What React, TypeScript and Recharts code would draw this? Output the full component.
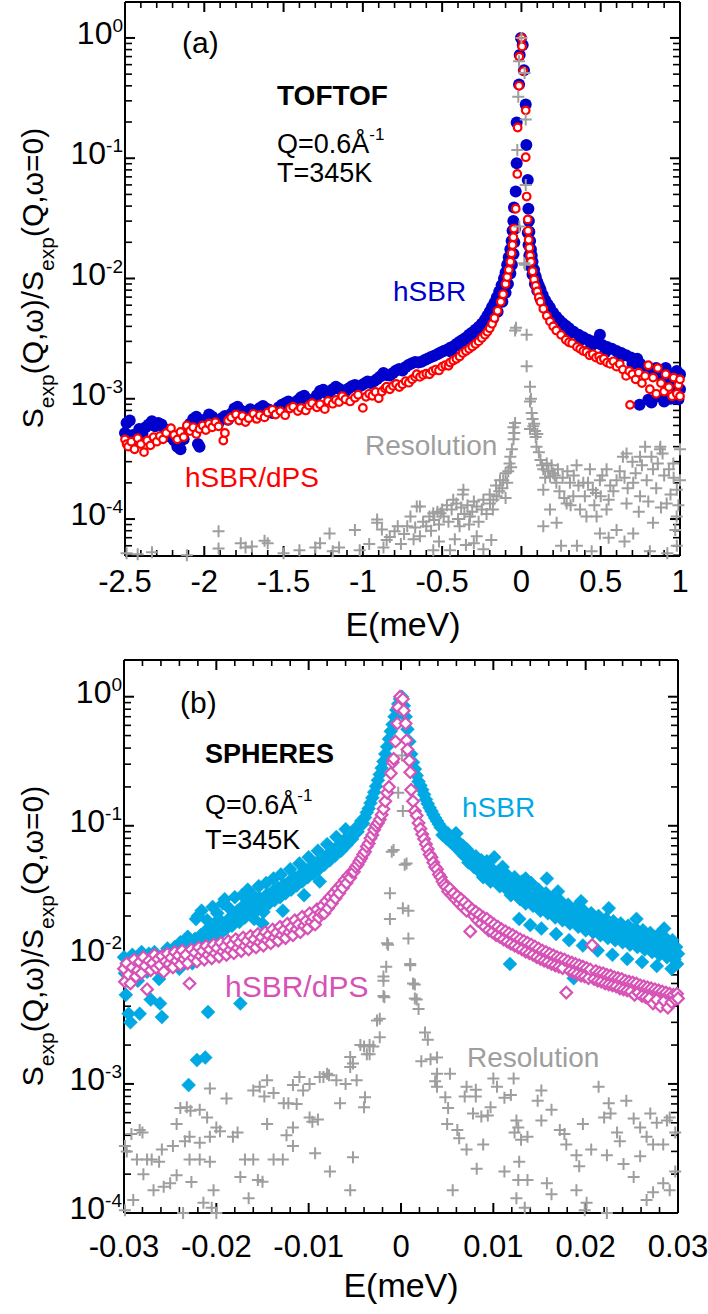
import React from 'react';
import { ScatterChart, Scatter, XAxis, YAxis } from 'recharts';

type P = [number, number];
const FONT = "'Liberation Sans', Arial, Helvetica, sans-serif";

// ---------------- Panel (a) TOFTOF ----------------
const aHsbr: P[] = [
[-2.50,5.2e-4],[-2.49,6.3e-4],[-2.48,4.4e-4],[-2.47,6.6e-4],[-2.45,5.0e-4],[-2.43,4.6e-4],[-2.41,5.6e-4],[-2.39,5.1e-4],[-2.37,5.8e-4],[-2.35,6.1e-4],[-2.33,6.5e-4],[-2.31,5.9e-4],[-2.29,6.3e-4],[-2.27,6.1e-4],[-2.25,5.6e-4],[-2.23,5.2e-4],[-2.21,4.8e-4],[-2.19,4.5e-4],[-2.17,4.0e-4],[-2.15,3.8e-4],[-2.13,4.6e-4],[-2.11,5.5e-4],[-2.09,6.2e-4],[-2.07,6.8e-4],[-2.05,7.1e-4],[-2.04,4.2e-4],[-2.03,4.0e-4],[-2.01,6.1e-4],[-1.99,6.8e-4],[-1.97,7.4e-4],[-1.95,7.1e-4],[-1.93,6.6e-4],[-1.91,6.3e-4],[-1.89,6.9e-4],[-1.87,7.2e-4],[-1.85,6.7e-4],[-1.83,7.5e-4],[-1.81,8.3e-4],[-1.79,8.6e-4],[-1.77,8.0e-4],[-1.75,7.5e-4],[-1.73,7.8e-4],[-1.71,8.2e-4],[-1.69,7.7e-4],[-1.67,8.0e-4],[-1.65,8.4e-4],[-1.63,8.7e-4],[-1.61,8.3e-4],[-1.59,8.1e-4],[-1.57,7.6e-4],[-1.55,8.0e-4],[-1.53,8.5e-4],[-1.51,8.9e-4],[-1.49,9.2e-4],[-1.47,9.5e-4],[-1.45,8.9e-4],[-1.43,9.3e-4],[-1.41,9.7e-4],[-1.39,1.03e-3],[-1.37,1.06e-3],[-1.35,9.9e-4],[-1.33,9.4e-4],[-1.31,9.9e-4],[-1.29,1.07e-3],[-1.27,1.16e-3],[-1.25,1.19e-3],[-1.23,1.11e-3],[-1.21,1.14e-3],[-1.19,1.20e-3],[-1.17,1.26e-3],[-1.15,1.21e-3],[-1.13,1.16e-3],[-1.11,1.15e-3],[-1.09,1.22e-3],[-1.07,1.27e-3],[-1.05,1.30e-3],[-1.03,1.25e-3],[-1.01,1.29e-3],[-0.99,1.34e-3],[-0.97,1.39e-3],[-0.95,1.35e-3],[-0.93,1.40e-3],[-0.91,1.46e-3],[-0.89,1.53e-3],[-0.87,1.64e-3],[-0.85,1.58e-3],[-0.83,1.56e-3],[-0.81,1.64e-3],[-0.79,1.72e-3],[-0.77,1.77e-3],[-0.75,1.72e-3],[-0.73,1.84e-3],[-0.71,1.92e-3],[-0.69,1.97e-3],[-0.67,2.02e-3],[-0.65,2.0e-3],[-0.63,2.03e-3],[-0.61,2.1e-3],[-0.59,2.16e-3],[-0.57,2.22e-3],[-0.55,2.28e-3],[-0.53,2.35e-3],[-0.51,2.42e-3],[-0.49,2.5e-3],[-0.47,2.56e-3],[-0.45,2.65e-3],[-0.43,2.72e-3],[-0.41,2.85e-3],[-0.39,2.98e-3],[-0.37,3.1e-3],[-0.35,3.22e-3],[-0.33,3.4e-3],[-0.31,3.55e-3],[-0.29,3.75e-3],[-0.27,3.95e-3],[-0.25,4.2e-3],[-0.23,4.55e-3],[-0.215,4.9e-3],[-0.20,5.3e-3],[-0.185,5.8e-3],[-0.17,6.3e-3],[-0.155,7.0e-3],[-0.14,7.8e-3],[-0.125,8.8e-3],[-0.11,1.0e-2],[-0.10,1.12e-2],[-0.09,1.3e-2],[-0.08,1.5e-2],[-0.07,1.75e-2],[-0.062,2.05e-2],[-0.056,2.5e-2],[-0.051,3.0e-2],[-0.047,3.9e-2],[-0.036,5.3e-2],[-0.030,9.1e-2],[-0.030,1.98e-1],[-0.015,4.1e-1],[-0.011,7.2e-1],[-0.003,1.0],[0.008,8.75e-1],[0.016,5.4e-1],[0.027,2.8e-1],[0.031,1.29e-1],[0.040,6.6e-2],[0.044,3.8e-2],[0.047,3.0e-2],[0.05,2.45e-2],[0.055,2.05e-2],[0.06,1.75e-2],[0.065,1.55e-2],[0.07,1.38e-2],[0.08,1.18e-2],[0.09,1.04e-2],[0.10,9.4e-3],[0.11,8.7e-3],[0.12,8.1e-3],[0.134,7.3e-3],[0.15,6.6e-3],[0.165,6.1e-3],[0.18,5.7e-3],[0.20,5.2e-3],[0.22,4.8e-3],[0.24,4.5e-3],[0.26,4.25e-3],[0.28,4.05e-3],[0.30,3.85e-3],[0.33,3.6e-3],[0.36,3.4e-3],[0.39,3.25e-3],[0.42,3.1e-3],[0.45,3.0e-3],[0.48,2.9e-3],[0.495,3.4e-3],[0.51,2.8e-3],[0.54,2.7e-3],[0.57,2.6e-3],[0.60,2.5e-3],[0.63,2.4e-3],[0.66,2.3e-3],[0.69,2.2e-3],[0.71,2.05e-3],[0.73,2.15e-3],[0.745,8.9e-4],[0.75,1.95e-3],[0.77,1.85e-3],[0.79,1.75e-3],[0.80,9.8e-4],[0.81,1.8e-3],[0.82,9.3e-4],[0.83,1.65e-3],[0.85,1.8e-3],[0.86,1.05e-3],[0.87,1.6e-3],[0.89,1.55e-3],[0.90,9.5e-4],[0.91,1.8e-3],[0.93,1.35e-3],[0.94,1.0e-3],[0.95,1.6e-3],[0.97,1.25e-3],[0.98,1.7e-3],[0.99,9.9e-4],[1.0,1.6e-3],[1.0,1.2e-3],
[-0.04,2.6e-2],[-0.045,2.0e-2],[-0.05,1.6e-2],[-0.06,1.3e-2],[-0.07,1.1e-2],[-0.085,9.0e-3],[-0.1,7.6e-3],[-0.12,6.4e-3],[-0.15,5.3e-3],[-0.18,4.6e-3],[-0.22,4.0e-3],[-0.27,3.5e-3],[-0.32,3.1e-3],[-0.38,2.75e-3],[-0.44,2.45e-3],
[0.04,2.4e-2],[0.045,1.9e-2],[0.05,1.55e-2],[0.06,1.25e-2],[0.07,1.08e-2],[0.085,9.0e-3],[0.1,7.9e-3],[0.12,6.8e-3],[0.15,5.8e-3],[0.19,4.9e-3],[0.24,4.1e-3],[0.3,3.5e-3],[0.37,3.05e-3],[0.44,2.75e-3],[0.53,2.45e-3],[0.62,2.2e-3],[0.7,1.95e-3],
];

const aHsbrDps: P[] = [
[-2.50,4.6e-4],[-2.49,4.2e-4],[-2.48,4.0e-4],[-2.46,4.4e-4],[-2.44,3.8e-4],[-2.42,4.7e-4],[-2.40,4.2e-4],[-2.38,3.6e-4],[-2.36,4.5e-4],[-2.34,4.1e-4],[-2.32,4.8e-4],[-2.30,4.4e-4],[-2.28,4.9e-4],[-2.26,4.6e-4],[-2.24,5.2e-4],[-2.21,5.7e-4],[-2.19,5.0e-4],[-2.17,4.6e-4],[-2.15,5.3e-4],[-2.13,4.8e-4],[-2.11,6.0e-4],[-2.09,5.4e-4],[-2.07,5.8e-4],[-2.05,5.1e-4],[-2.03,5.6e-4],[-2.01,6.0e-4],[-1.99,5.5e-4],[-1.97,6.2e-4],[-1.95,5.8e-4],[-1.93,6.4e-4],[-1.91,5.9e-4],[-1.88,4.5e-4],[-1.87,5.2e-4],[-1.85,6.6e-4],[-1.83,7.0e-4],[-1.80,7.4e-4],[-1.78,6.6e-4],[-1.76,7.2e-4],[-1.74,6.4e-4],[-1.72,6.9e-4],[-1.69,7.5e-4],[-1.67,6.8e-4],[-1.65,7.3e-4],[-1.62,7.0e-4],[-1.60,7.7e-4],[-1.57,8.1e-4],[-1.55,7.4e-4],[-1.52,7.9e-4],[-1.49,7.3e-4],[-1.46,8.3e-4],[-1.44,8.6e-4],[-1.41,7.9e-4],[-1.39,8.4e-4],[-1.36,8.0e-4],[-1.34,8.8e-4],[-1.32,9.2e-4],[-1.29,8.5e-4],[-1.27,9.0e-4],[-1.24,8.2e-4],[-1.22,9.6e-4],[-1.19,9.1e-4],[-1.17,9.8e-4],[-1.15,9.4e-4],[-1.13,1.05e-3],[-1.11,9.9e-4],[-1.08,9.5e-4],[-1.05,1.02e-3],[-1.03,1.08e-3],[-1.00,8.4e-4],[-0.98,1.04e-3],[-0.96,1.10e-3],[-0.94,1.06e-3],[-0.92,1.14e-3],[-0.90,1.01e-3],[-0.88,1.15e-3],[-0.86,1.22e-3],[-0.85,1.26e-3],[-0.83,1.20e-3],[-0.81,1.28e-3],[-0.79,1.33e-3],[-0.77,1.25e-3],[-0.75,1.32e-3],[-0.73,1.40e-3],[-0.71,1.36e-3],[-0.69,1.45e-3],[-0.67,1.52e-3],[-0.66,1.60e-3],[-0.64,1.52e-3],[-0.62,1.58e-3],[-0.60,1.62e-3],[-0.58,1.60e-3],[-0.56,1.70e-3],[-0.54,1.75e-3],[-0.52,1.72e-3],[-0.50,1.85e-3],[-0.48,1.90e-3],[-0.46,1.88e-3],[-0.45,2.0e-3],[-0.43,2.08e-3],[-0.41,2.15e-3],[-0.39,2.25e-3],[-0.37,2.4e-3],[-0.35,2.5e-3],[-0.33,2.6e-3],[-0.31,2.72e-3],[-0.29,2.85e-3],[-0.27,3.0e-3],[-0.25,3.2e-3],[-0.23,3.4e-3],[-0.215,3.6e-3],[-0.20,3.85e-3],[-0.185,4.2e-3],[-0.17,4.7e-3],[-0.15,5.4e-3],[-0.13,6.4e-3],[-0.116,7.4e-3],[-0.10,9.0e-3],[-0.09,1.03e-2],[-0.08,1.18e-2],[-0.07,1.38e-2],[-0.062,1.62e-2],[-0.056,1.9e-2],[-0.051,2.2e-2],[-0.047,2.6e-2],[-0.036,3.8e-2],[-0.026,7.4e-2],[-0.024,1.8e-1],[-0.015,4.0e-1],[-0.013,7.0e-1],[0.002,1.0],[0.004,8.5e-1],[0.012,5.3e-1],[0.027,2.5e-1],[0.027,1.02e-1],[0.033,4.8e-2],[0.040,3.1e-2],[0.042,2.5e-2],[0.046,2.1e-2],[0.05,1.8e-2],[0.055,1.55e-2],[0.06,1.38e-2],[0.07,1.15e-2],[0.08,9.8e-3],[0.09,8.7e-3],[0.10,7.8e-3],[0.11,7.0e-3],[0.12,6.4e-3],[0.138,5.6e-3],[0.16,4.9e-3],[0.18,4.4e-3],[0.20,4.0e-3],[0.22,3.7e-3],[0.25,3.4e-3],[0.28,3.1e-3],[0.30,2.95e-3],[0.32,2.9e-3],[0.35,2.7e-3],[0.37,2.6e-3],[0.39,2.5e-3],[0.41,2.45e-3],[0.43,2.3e-3],[0.45,2.35e-3],[0.47,2.2e-3],[0.49,2.25e-3],[0.50,2.1e-3],[0.52,2.15e-3],[0.54,2.0e-3],[0.56,1.95e-3],[0.58,2.05e-3],[0.60,1.85e-3],[0.62,1.95e-3],[0.64,1.75e-3],[0.66,1.55e-3],[0.68,1.7e-3],[0.685,8.9e-4],[0.70,1.6e-3],[0.72,1.45e-3],[0.74,1.65e-3],[0.76,1.35e-3],[0.78,1.55e-3],[0.80,1.9e-3],[0.81,1.2e-3],[0.83,1.5e-3],[0.85,1.1e-3],[0.86,1.8e-3],[0.88,1.35e-3],[0.90,1.15e-3],[0.91,1.6e-3],[0.93,1.25e-3],[0.95,1.05e-3],[0.96,1.5e-3],[0.98,1.1e-3],[0.99,1.3e-3],[1.0,1.05e-3],[1.0,1.45e-3],
];

const aResolution: P[] = [
[0.0,1.0],[-0.015,0.64],[0.02,0.51],[-0.02,0.325],[0.027,0.21],[-0.026,0.117],[0.027,0.06],[-0.013,0.027],[0.018,0.0134],[0.023,0.013],[-0.034,3.9e-3],[-0.04,3.7e-3],[0.033,3.4e-3],[0.033,1.86e-3],[0.054,1.26e-3],[0.054,9.5e-4],[0.065,7.6e-4],[-0.04,6.3e-4],[0.075,5.9e-4],[0.086,5.4e-4],[0.09,4.8e-4],[-0.05,4.6e-4],[-0.051,5.8e-4],[0.095,4.0e-4],[0.11,3.6e-4],[0.054,5.6e-4],[-0.07,3.3e-4],[-0.075,2.9e-4],[-0.083,2.5e-4],[0.138,2.6e-4],[0.16,2.9e-4],[0.18,2.26e-4],[0.138,1.75e-4],[0.22,2.0e-4],[0.2,2.4e-4],[-0.115,2.1e-4],[-0.135,2.1e-4],[-0.156,1.55e-4],[-0.177,1.45e-4],[-0.198,1.35e-4],[-0.24,1.45e-4],[-0.282,1.27e-4],[-0.324,1.05e-4],[-0.366,1.75e-4],[-0.37,1.6e-4],[-0.43,1.45e-4],[-0.39,8.7e-5],[-0.49,1.05e-4],[-0.51,1.12e-4],[-0.556,1.12e-4],[-0.60,8.7e-5],[-0.64,1.27e-4],[-0.70,1.05e-4],[-0.66,1.27e-4],[-0.72,8.7e-5],[-0.64,7.2e-5],[-0.556,5.5e-5],[-0.45,5.5e-5],[-0.282,7.2e-5],[-0.19,6.7e-5],[-0.35,6.1e-5],[0.18,1.2e-4],[0.222,9.3e-5],[0.285,1.35e-4],[0.327,1.55e-4],[0.41,1.05e-4],[0.306,2.0e-4],[0.348,2.8e-4],[0.39,2.0e-4],[0.432,2.6e-4],[0.47,1.65e-4],[0.495,2.1e-4],[0.537,2.6e-4],[0.56,1.9e-4],[0.60,2.1e-4],[0.64,3.3e-4],[0.663,3.5e-4],[0.70,3.0e-4],[0.748,3.3e-4],[0.78,4.0e-4],[0.874,3.8e-4],[0.876,4.0e-4],[0.90,2.3e-4],[1.0,3.8e-4],[0.958,2.9e-4],[0.83,2.6e-4],[0.705,2.0e-4],[0.748,1.55e-4],[0.663,1.35e-4],[0.537,1.2e-4],[0.474,1.05e-4],[0.60,8.1e-5],[0.705,7.6e-5],[0.83,9.3e-5],[0.916,1.35e-4],[0.979,1.05e-4],[0.97,8.1e-5],[1.0,2.1e-4],[0.495,7.6e-5],[0.138,8.7e-5],[0.443,5.4e-5],[0.81,5.4e-5],[0.92,5.2e-5],[0.25,6.0e-5],
[-2.49,5.2e-5],[-2.42,5.1e-5],[-2.33,5.3e-5],[-2.11,5.0e-5],[-1.91,7.9e-5],[-1.91,5.7e-5],[-1.77,6.3e-5],[-1.74,5.8e-5],[-1.70,5.9e-5],[-1.62,6.6e-5],[-1.60,6.3e-5],[-1.50,5.2e-5],[-1.40,5.5e-5],[-1.30,5.8e-5],[-1.27,6.3e-5],[-1.21,7.6e-5],[-1.19,5.4e-5],[-1.15,5.8e-5],[-1.05,8.1e-5],[-1.02,5.5e-5],[-0.96,6.2e-5],[-0.91,9.3e-5],[-0.91,9.9e-5],[-0.85,6.7e-5],[-0.83,7.1e-5],[-0.78,8.7e-5],
[-0.10,2.4e-4],[-0.12,1.8e-4],[-0.14,1.7e-4],[-0.16,1.9e-4],[-0.18,1.2e-4],[-0.20,1.6e-4],[-0.22,1.1e-4],[-0.25,1.2e-4],[-0.27,9.5e-5],[-0.30,1.4e-4],[-0.31,1.15e-4],[-0.33,9.0e-5],[-0.34,1.3e-4],[-0.36,1.1e-4],[-0.38,1.25e-4],[-0.40,1.0e-4],[-0.41,1.35e-4],[-0.44,1.2e-4],[-0.46,9.5e-5],[-0.47,1.3e-4],[-0.50,1.2e-4],[-0.52,9.0e-5],[-0.53,1.15e-4],[-0.55,9.8e-5],[-0.57,8.0e-5],[-0.58,1.05e-4],[-0.62,9.5e-5],[-0.67,8.5e-5],[-0.68,6.8e-5],[-0.74,7.5e-5],[-0.76,6.2e-5],[-0.80,7.9e-5],[-0.87,5.8e-5],[-0.88,8.2e-5],[-0.52,6.5e-5],[-0.42,6.8e-5],[-0.30,6.3e-5],[-0.24,5.6e-5],[-0.10,1.5e-4],[-0.09,2.0e-4],[-0.06,3.8e-4],[-0.065,2.7e-4],[-0.045,5.2e-4],
[0.06,1.0e-3],[0.07,6.8e-4],[0.08,6.2e-4],[0.10,5.1e-4],[0.12,3.1e-4],[0.13,2.8e-4],[0.15,2.2e-4],[0.17,2.5e-4],[0.19,2.8e-4],[0.21,2.3e-4],[0.23,2.6e-4],[0.24,1.7e-4],[0.26,2.2e-4],[0.27,1.5e-4],[0.29,2.5e-4],[0.31,1.3e-4],[0.33,2.3e-4],[0.36,1.9e-4],[0.37,1.2e-4],[0.40,1.55e-4],[0.42,2.0e-4],[0.45,1.75e-4],[0.46,1.3e-4],[0.50,1.55e-4],[0.51,2.3e-4],[0.55,1.45e-4],[0.58,1.7e-4],[0.62,2.5e-4],[0.65,2.2e-4],[0.67,1.8e-4],[0.72,2.4e-4],[0.74,1.15e-4],[0.76,2.8e-4],[0.79,2.1e-4],[0.80,1.4e-4],[0.82,3.3e-4],[0.85,1.8e-4],[0.86,2.9e-4],[0.88,1.25e-4],[0.89,3.5e-4],[0.93,2.6e-4],[0.94,1.6e-4],[0.96,2.2e-4],[0.98,1.75e-4],[0.99,1.3e-4],[0.55,7.0e-5],[0.65,6.5e-5],[0.35,6.0e-5],[0.98,6.0e-5],
];

// ---------------- Panel (b) SPHERES ----------------
const bHsbr: P[] = [
[-0.0300,9.6e-3],[-0.0299,7.2e-3],[-0.0298,4.9e-3],[-0.0297,8.5e-3],[-0.0295,3.5e-3],[-0.0293,3.0e-3],[-0.0291,1.0e-2],[-0.0289,7.6e-3],[-0.0287,9.0e-3],[-0.0285,6.3e-3],[-0.0283,3.5e-3],[-0.0281,1.05e-2],[-0.0279,8.2e-3],[-0.0277,9.4e-3],[-0.0275,7.4e-3],[-0.0273,1.02e-2],[-0.0271,4.5e-3],[-0.0269,8.8e-3],[-0.0267,1.05e-2],[-0.0265,8.0e-3],[-0.0263,9.5e-3],[-0.0261,4.2e-3],[-0.0259,3.3e-3],[-0.0257,1.0e-2],[-0.0255,8.7e-3],[-0.0253,1.12e-2],[-0.0251,9.2e-3],[-0.0249,1.04e-2],[-0.0247,8.4e-3],[-0.0245,1.15e-2],[-0.0243,9.8e-3],[-0.0241,1.08e-2],[-0.0239,1.25e-2],[-0.0237,9.4e-3],[-0.0235,1.15e-2],[-0.0233,1.02e-2],[-0.0231,1.38e-2],[-0.0230,9.8e-4],[-0.0229,1.12e-2],[-0.0227,1.22e-2],[-0.0225,1.05e-2],[-0.0223,1.33e-2],[-0.0221,1.53e-3],[-0.0220,2.0e-2],[-0.0219,1.16e-2],[-0.0217,1.42e-2],[-0.0215,1.25e-2],[-0.0213,1.5e-2],[-0.0212,1.6e-3],[-0.0211,1.3e-2],[-0.0209,3.6e-3],[-0.0208,1.6e-2],[-0.0206,1.35e-2],[-0.0204,1.52e-2],[-0.0202,1.75e-2],[-0.0200,1.45e-2],[-0.0198,1.62e-2],[-0.0196,1.85e-2],[-0.0194,1.5e-2],[-0.0192,1.72e-2],[-0.0191,2.7e-2],[-0.0189,1.6e-2],[-0.0187,1.82e-2],[-0.0185,1.95e-2],[-0.0183,1.68e-2],[-0.0181,2.05e-2],[-0.0179,1.85e-2],[-0.0177,2.2e-2],[-0.0175,1.8e-2],[-0.0174,4.2e-3],[-0.0173,2.05e-2],[-0.0171,2.4e-2],[-0.0169,1.95e-2],[-0.0167,2.2e-2],[-0.0165,2.55e-2],[-0.0163,2.1e-2],[-0.0161,2.35e-2],[-0.0159,1.9e-2],[-0.0157,2.5e-2],[-0.0155,2.25e-2],[-0.0153,2.75e-2],[-0.0151,2.4e-2],[-0.0149,2.15e-2],[-0.0147,2.65e-2],[-0.0145,2.95e-2],[-0.0143,2.5e-2],[-0.0141,2.8e-2],[-0.0139,3.1e-2],[-0.0137,2.65e-2],[-0.0135,2.95e-2],[-0.0133,3.3e-2],[-0.0131,2.8e-2],[-0.0129,3.15e-2],[-0.0127,3.5e-2],[-0.0125,3.0e-2],[-0.0123,3.35e-2],[-0.0121,3.7e-2],[-0.0119,3.2e-2],[-0.0117,3.6e-2],[-0.0115,3.95e-2],[-0.0113,3.45e-2],[-0.0111,3.85e-2],[-0.0109,4.2e-2],[-0.0107,3.7e-2],[-0.0105,4.1e-2],[-0.0103,4.5e-2],[-0.0101,4.0e-2],[-0.0099,4.4e-2],[-0.0097,4.85e-2],[-0.0095,4.25e-2],[-0.0093,4.7e-2],[-0.0091,5.2e-2],[-0.0089,4.6e-2],[-0.0087,5.1e-2],[-0.0085,5.6e-2],[-0.0083,5.0e-2],[-0.0081,5.5e-2],[-0.0079,6.0e-2],[-0.0077,5.4e-2],[-0.0075,5.95e-2],[-0.0073,6.5e-2],[-0.0071,5.9e-2],[-0.0069,6.5e-2],[-0.0067,7.1e-2],[-0.0065,6.4e-2],[-0.0063,7.1e-2],[-0.0061,7.8e-2],[-0.0059,7.1e-2],[-0.0057,7.9e-2],[-0.0055,8.6e-2],[-0.0053,7.9e-2],[-0.0051,8.8e-2],[-0.0049,9.6e-2],[-0.0047,9.0e-2],[-0.0045,1.0e-1],[-0.0043,1.09e-1],[-0.0041,1.04e-1],[-0.0039,1.16e-1],[-0.0037,1.27e-1],[-0.0035,1.36e-1],[-0.0033,1.5e-1],[-0.0031,1.65e-1],[-0.0029,1.82e-1],[-0.0027,2.02e-1],[-0.0025,2.25e-1],[-0.0023,2.5e-1],[-0.0021,2.8e-1],[-0.0019,3.15e-1],[-0.0017,3.6e-1],[-0.0015,4.1e-1],[-0.0013,4.7e-1],[-0.0011,5.4e-1],[-0.0009,6.1e-1],[-0.0007,7.0e-1],[-0.0005,7.9e-1],[-0.0003,8.8e-1],[-0.0001,9.6e-1],
[-0.0222,1.9e-2],[-0.0216,2.2e-2],[-0.0210,1.85e-2],[-0.0204,2.35e-2],[-0.0199,2.1e-2],[-0.0193,2.5e-2],[-0.0186,2.3e-2],[-0.0180,2.8e-2],[-0.0172,2.9e-2],[-0.0166,3.2e-2],[-0.0160,2.9e-2],[-0.0154,3.4e-2],[-0.0146,3.6e-2],[-0.0138,3.9e-2],[-0.0130,4.2e-2],[-0.0120,4.6e-2],[-0.0110,5.1e-2],[-0.0100,5.7e-2],[-0.0090,6.4e-2],[-0.0080,7.2e-2],[-0.0070,8.2e-2],[-0.0060,9.4e-2],
[-0.0262,6.5e-3],[-0.0240,7.8e-3],[-0.0226,8.6e-3],[-0.0200,1.1e-2],[-0.0178,1.3e-2],[-0.0150,1.75e-2],[-0.0128,2.2e-2],[-0.0105,2.9e-2],[-0.0088,3.7e-2],
[0.0001,1.0],[0.0003,8.5e-1],[0.0005,7.0e-1],[0.0007,5.6e-1],[0.0009,4.5e-1],[0.0011,3.6e-1],[0.0013,3.1e-1],[0.0015,2.75e-1],[0.0017,2.45e-1],[0.0019,2.2e-1],[0.0021,2.05e-1],[0.0023,1.9e-1],[0.0025,1.75e-1],[0.0027,1.6e-1],[0.0029,1.48e-1],[0.0031,1.38e-1],[0.0033,1.3e-1],[0.0035,1.22e-1],[0.0037,1.15e-1],[0.0039,1.09e-1],[0.0041,1.03e-1],[0.0043,9.7e-2],[0.0045,8.5e-2],[0.0047,9.2e-2],[0.0049,8.0e-2],[0.0051,8.7e-2],[0.0053,7.6e-2],[0.0055,8.2e-2],[0.0057,7.1e-2],[0.0059,8.7e-2],[0.0060,8.7e-2],[0.0061,6.7e-2],[0.0063,7.4e-2],[0.0065,6.2e-2],[0.0067,7.0e-2],[0.0069,5.8e-2],[0.0071,6.6e-2],[0.0073,5.2e-2],[0.0075,6.1e-2],[0.0077,5.5e-2],[0.0079,4.8e-2],[0.0081,5.8e-2],[0.0083,5.0e-2],[0.0085,4.4e-2],[0.0087,5.4e-2],[0.0089,4.0e-2],[0.0091,4.7e-2],[0.0093,5.3e-2],[0.0095,4.2e-2],[0.0097,3.7e-2],[0.0099,4.6e-2],[0.0101,5.7e-2],[0.0103,3.9e-2],[0.0105,4.4e-2],[0.0107,3.4e-2],[0.0109,4.1e-2],[0.0111,3.6e-2],[0.0113,4.3e-2],[0.0115,3.2e-2],[0.0117,3.8e-2],[0.0118,8.5e-3],[0.0119,2.9e-2],[0.0121,3.5e-2],[0.0123,4.0e-2],[0.0125,3.0e-2],[0.0127,3.4e-2],[0.0128,1.9e-2],[0.0129,2.7e-2],[0.0131,3.7e-2],[0.0133,3.1e-2],[0.0135,2.5e-2],[0.0137,3.3e-2],[0.0139,2.8e-2],[0.0140,1.7e-2],[0.0141,3.6e-2],[0.0143,2.4e-2],[0.0145,2.9e-2],[0.0147,2.5e-2],[0.0149,3.2e-2],[0.0151,2.2e-2],[0.0152,1.6e-2],[0.0153,2.7e-2],[0.0155,2.35e-2],[0.0157,3.0e-2],[0.0158,3.9e-2],[0.0159,2.1e-2],[0.0161,2.55e-2],[0.0163,2.25e-2],[0.0165,2.8e-2],[0.0167,1.95e-2],[0.0168,1.45e-2],[0.0169,2.4e-2],[0.0171,2.1e-2],[0.0173,2.6e-2],[0.0175,1.85e-2],[0.0177,2.3e-2],[0.0179,2.0e-2],[0.0181,2.45e-2],[0.0182,1.3e-2],[0.0183,1.75e-2],[0.0185,2.15e-2],[0.0187,6.6e-3],[0.0188,1.9e-2],[0.0190,2.35e-2],[0.0192,1.65e-2],[0.0194,2.05e-2],[0.0196,1.8e-2],[0.0197,1.18e-2],[0.0198,2.2e-2],[0.0200,1.55e-2],[0.0202,1.95e-2],[0.0204,1.7e-2],[0.0206,2.1e-2],[0.0208,1.5e-2],[0.0210,1.85e-2],[0.0212,1.62e-2],[0.0213,1.08e-2],[0.0214,2.0e-2],[0.0216,1.42e-2],[0.0218,1.75e-2],[0.0220,1.55e-2],[0.0222,1.9e-2],[0.0224,1.35e-2],[0.0226,1.68e-2],[0.0228,1.48e-2],[0.0229,1.0e-2],[0.0230,1.82e-2],[0.0232,1.3e-2],[0.0234,1.6e-2],[0.0236,1.42e-2],[0.0238,1.75e-2],[0.0240,1.25e-2],[0.0242,1.55e-2],[0.0244,1.36e-2],[0.0245,9.3e-3],[0.0246,1.68e-2],[0.0248,1.2e-2],[0.0250,1.48e-2],[0.0252,1.3e-2],[0.0254,1.6e-2],[0.0256,1.15e-2],[0.0258,1.42e-2],[0.0260,1.25e-2],[0.0261,8.8e-3],[0.0262,1.55e-2],[0.0264,1.1e-2],[0.0266,1.36e-2],[0.0268,1.2e-2],[0.0270,1.48e-2],[0.0272,1.05e-2],[0.0274,1.3e-2],[0.0276,1.15e-2],[0.0277,8.2e-3],[0.0278,1.42e-2],[0.0280,1.0e-2],[0.0282,1.25e-2],[0.0284,1.1e-2],[0.0286,1.36e-2],[0.0288,9.6e-3],[0.0290,1.2e-2],[0.0292,1.06e-2],[0.0293,7.8e-3],[0.0294,1.3e-2],[0.0296,9.2e-3],[0.0298,1.15e-2],[0.0299,8.5e-3],[0.0300,1.02e-2],
[0.0110,4.8e-2],[0.0135,3.9e-2],[0.0170,3.1e-2],[0.0195,2.6e-2],[0.0225,2.3e-2],[0.0255,1.9e-2],[0.0285,1.6e-2],
];

const bHsbrDps: P[] = [
[-0.0300,7.8e-3],[-0.0299,6.2e-3],[-0.0297,8.6e-3],[-0.0295,7.0e-3],[-0.0293,6.0e-3],[-0.0291,8.0e-3],[-0.0289,9.2e-3],[-0.0287,6.8e-3],[-0.0285,7.6e-3],[-0.0283,8.8e-3],[-0.0281,7.2e-3],[-0.0279,9.6e-3],[-0.0277,8.2e-3],[-0.0275,5.4e-3],[-0.0273,9.0e-3],[-0.0271,7.6e-3],[-0.0269,8.6e-3],[-0.0267,1.0e-2],[-0.0265,7.9e-3],[-0.0263,9.3e-3],[-0.0261,8.3e-3],[-0.0259,9.8e-3],[-0.0257,7.4e-3],[-0.0255,8.9e-3],[-0.0253,1.02e-2],[-0.0251,8.5e-3],[-0.0249,9.5e-3],[-0.0247,8.0e-3],[-0.0245,1.05e-2],[-0.0243,9.0e-3],[-0.0241,9.9e-3],[-0.0239,8.4e-3],[-0.0237,1.08e-2],[-0.0235,9.3e-3],[-0.0233,1.0e-2],[-0.0231,8.6e-3],[-0.0229,6.0e-3],[-0.0227,1.1e-2],[-0.0225,9.5e-3],[-0.0223,1.04e-2],[-0.0221,8.9e-3],[-0.0219,1.14e-2],[-0.0217,9.8e-3],[-0.0215,1.07e-2],[-0.0213,9.2e-3],[-0.0211,1.17e-2],[-0.0209,1.0e-2],[-0.0207,1.1e-2],[-0.0205,9.4e-3],[-0.0203,1.2e-2],[-0.0201,1.03e-2],[-0.0199,1.13e-2],[-0.0197,9.7e-3],[-0.0195,1.24e-2],[-0.0193,1.06e-2],[-0.0191,1.16e-2],[-0.0189,1.0e-2],[-0.0187,1.28e-2],[-0.0185,1.09e-2],[-0.0183,1.2e-2],[-0.0181,1.03e-2],[-0.0179,1.32e-2],[-0.0177,1.13e-2],[-0.0175,1.24e-2],[-0.0173,1.07e-2],[-0.0171,1.36e-2],[-0.0169,1.17e-2],[-0.0167,1.28e-2],[-0.0165,1.1e-2],[-0.0163,1.4e-2],[-0.0161,1.2e-2],[-0.0159,1.32e-2],[-0.0157,1.14e-2],[-0.0155,1.45e-2],[-0.0153,1.25e-2],[-0.0151,1.37e-2],[-0.0149,1.18e-2],[-0.0147,1.5e-2],[-0.0145,1.3e-2],[-0.0143,1.42e-2],[-0.0141,1.23e-2],[-0.0139,1.57e-2],[-0.0137,1.36e-2],[-0.0135,1.48e-2],[-0.0133,1.29e-2],[-0.0131,1.65e-2],[-0.0129,1.42e-2],[-0.0127,1.55e-2],[-0.0125,1.35e-2],[-0.0123,1.74e-2],[-0.0121,1.5e-2],[-0.0119,1.63e-2],[-0.0117,1.42e-2],[-0.0115,1.85e-2],[-0.0113,1.58e-2],[-0.0111,1.72e-2],[-0.0109,1.5e-2],[-0.0107,1.97e-2],[-0.0105,1.68e-2],[-0.0103,1.83e-2],[-0.0101,1.6e-2],[-0.0099,2.1e-2],[-0.0097,1.8e-2],[-0.0095,1.96e-2],[-0.0093,1.72e-2],[-0.0091,2.25e-2],[-0.0089,1.95e-2],[-0.0087,2.12e-2],[-0.0085,2.4e-2],[-0.0083,2.1e-2],[-0.0081,2.6e-2],[-0.0079,2.3e-2],[-0.0077,2.8e-2],[-0.0075,2.5e-2],[-0.0073,3.0e-2],[-0.0071,2.75e-2],[-0.0069,3.25e-2],[-0.0067,3.0e-2],[-0.0065,3.5e-2],[-0.0063,3.3e-2],[-0.0061,3.8e-2],[-0.0059,3.6e-2],[-0.0057,4.1e-2],[-0.0055,3.95e-2],[-0.0053,4.4e-2],[-0.0051,4.4e-2],[-0.0049,4.8e-2],[-0.0047,5.0e-2],[-0.0045,5.3e-2],[-0.0043,5.6e-2],[-0.0041,6.0e-2],[-0.0039,6.3e-2],[-0.0037,6.9e-2],[-0.0035,7.3e-2],[-0.0033,8.0e-2],[-0.0031,8.5e-2],[-0.0029,9.3e-2],[-0.0027,1.0e-1],[-0.0025,1.05e-1],[-0.0023,1.12e-1],[-0.0021,1.22e-1],[-0.0019,1.35e-1],[-0.0017,1.55e-1],[-0.0015,1.8e-1],[-0.0013,2.0e-1],[-0.0011,2.55e-1],[-0.0009,3.1e-1],[-0.0008,3.3e-1],[-0.0006,4.5e-1],[-0.0004,6.2e-1],[-0.0003,8.3e-1],[-0.0001,1.0],
[0.0002,9.6e-1],[0.0003,7.8e-1],[0.0005,6.2e-1],[0.0006,4.6e-1],[0.0007,3.9e-1],[0.0009,3.2e-1],[0.0010,2.6e-1],[0.0011,1.9e-1],[0.0013,1.55e-1],[0.0015,1.3e-1],[0.0017,1.2e-1],[0.0019,1.05e-1],[0.0021,9.5e-2],[0.0023,8.6e-2],[0.0025,7.9e-2],[0.0027,7.2e-2],[0.0029,6.6e-2],[0.0031,6.0e-2],[0.0033,5.7e-2],[0.0035,5.2e-2],[0.0037,4.8e-2],[0.0039,4.6e-2],[0.0041,4.2e-2],[0.0043,4.0e-2],[0.0045,3.7e-2],[0.0047,3.5e-2],[0.0049,3.35e-2],[0.0051,3.1e-2],[0.0053,3.25e-2],[0.0055,2.9e-2],[0.0057,3.0e-2],[0.0059,2.7e-2],[0.0061,2.85e-2],[0.0063,2.5e-2],[0.0065,2.7e-2],[0.0067,2.35e-2],[0.0069,2.55e-2],[0.0071,2.2e-2],[0.0073,2.4e-2],[0.0075,1.52e-2],[0.0077,2.25e-2],[0.0079,2.0e-2],[0.0081,2.15e-2],[0.0083,1.85e-2],[0.0085,2.05e-2],[0.0087,1.75e-2],[0.0089,1.95e-2],[0.0091,1.65e-2],[0.0093,1.9e-2],[0.0095,1.55e-2],[0.0097,1.8e-2],[0.0099,1.5e-2],[0.0101,1.72e-2],[0.0103,1.42e-2],[0.0105,1.65e-2],[0.0107,1.38e-2],[0.0109,1.58e-2],[0.0111,1.32e-2],[0.0113,1.52e-2],[0.0115,1.27e-2],[0.0117,1.47e-2],[0.0119,1.22e-2],[0.0121,1.42e-2],[0.0123,1.18e-2],[0.0125,1.37e-2],[0.0127,1.14e-2],[0.0129,1.32e-2],[0.0131,1.1e-2],[0.0133,1.28e-2],[0.0135,1.06e-2],[0.0137,1.24e-2],[0.0139,1.03e-2],[0.0141,1.2e-2],[0.0143,1.0e-2],[0.0145,1.16e-2],[0.0147,9.6e-3],[0.0149,1.12e-2],[0.0151,9.3e-3],[0.0153,1.08e-2],[0.0155,9.0e-3],[0.0157,1.05e-2],[0.0159,8.8e-3],[0.0161,1.02e-2],[0.0163,8.5e-3],[0.0165,9.9e-3],[0.0167,8.3e-3],[0.0169,9.6e-3],[0.0171,8.1e-3],[0.0173,9.4e-3],[0.0175,7.9e-3],[0.0177,9.2e-3],[0.0179,5.1e-3],[0.0181,8.9e-3],[0.0183,7.5e-3],[0.0185,8.7e-3],[0.0187,7.3e-3],[0.0189,8.5e-3],[0.0191,7.1e-3],[0.0193,8.3e-3],[0.0195,6.9e-3],[0.0197,8.1e-3],[0.0199,6.8e-3],[0.0201,7.9e-3],[0.0203,6.6e-3],[0.0205,7.7e-3],[0.0207,1.19e-2],[0.0209,6.5e-3],[0.0211,7.5e-3],[0.0213,6.3e-3],[0.0215,7.3e-3],[0.0217,6.2e-3],[0.0219,7.2e-3],[0.0221,6.0e-3],[0.0223,7.0e-3],[0.0225,5.9e-3],[0.0227,6.9e-3],[0.0229,5.8e-3],[0.0231,6.7e-3],[0.0233,5.7e-3],[0.0235,6.6e-3],[0.0237,5.5e-3],[0.0239,6.5e-3],[0.0241,5.4e-3],[0.0243,6.3e-3],[0.0245,5.3e-3],[0.0247,6.2e-3],[0.0249,5.2e-3],[0.0251,6.1e-3],[0.0253,4.9e-3],[0.0255,6.0e-3],[0.0257,5.1e-3],[0.0259,5.8e-3],[0.0261,4.8e-3],[0.0263,5.7e-3],[0.0265,4.7e-3],[0.0267,5.6e-3],[0.0269,4.6e-3],[0.0271,5.5e-3],[0.0273,4.2e-3],[0.0275,5.4e-3],[0.0277,4.5e-3],[0.0279,5.3e-3],[0.0281,4.0e-3],[0.0283,5.2e-3],[0.0285,4.4e-3],[0.0287,5.1e-3],[0.0289,3.9e-3],[0.0291,5.0e-3],[0.0293,4.3e-3],[0.0295,4.9e-3],[0.0297,4.5e-3],[0.0299,5.0e-3],[0.0300,4.6e-3],
];

const bResolution: P[] = [
[0.0,1.0],[0.0001,3.5e-1],[-0.0003,1.8e-1],[0.0002,1.3e-1],[-0.0010,6.3e-2],[-0.0008,6.5e-2],[0.0006,5.1e-2],[0.0004,5.0e-2],[-0.0012,3.0e-2],[0.0002,2.3e-2],[0.0008,2.2e-2],[-0.0012,1.9e-2],[0.0008,1.34e-2],[-0.0014,1.2e-2],[-0.0015,1.23e-2],[0.0010,8.3e-3],[-0.0016,8.1e-3],[0.0010,8.5e-3],[-0.0019,6.8e-3],[-0.0019,6.3e-3],[0.0013,6.0e-3],[0.0015,5.9e-3],[-0.0019,4.8e-3],[-0.0018,4.7e-3],[0.0017,4.5e-3],[0.0015,4.6e-3],[0.0019,3.8e-3],[-0.0023,3.2e-3],[-0.0026,3.1e-3],[0.0026,2.5e-3],[-0.0023,2.3e-3],[0.0029,2.2e-3],[-0.0030,1.95e-3],[-0.0034,2.0e-3],[-0.0040,1.95e-3],[-0.0044,2.0e-3],[-0.0037,1.7e-3],[-0.0034,1.7e-3],[0.0022,1.5e-3],[0.0032,1.55e-3],[0.0039,1.6e-3],[-0.0052,1.44e-3],[-0.0055,1.62e-3],[-0.0055,1.35e-3],[0.0039,1.2e-3],[0.0053,1.2e-3],[-0.0048,1.07e-3],[0.0037,1.05e-3],[0.0039,9.5e-4],[-0.0039,7.9e-4],[0.0048,7.9e-4],[-0.0040,6.6e-4],[0.0051,6.5e-4],[0.0050,4.9e-4],[0.0061,4.4e-4],[0.0063,3.8e-4],[0.0071,3.1e-4],[-0.0052,2.7e-4],[0.0056,1.5e-4],[-0.0055,1.5e-4],
[-0.0299,1.05e-4],[-0.0290,1.26e-4],[-0.0299,3.3e-4],[-0.0292,4.1e-4],[-0.0283,4.4e-4],[-0.0280,4.2e-4],[-0.0297,3.0e-4],[-0.0286,2.6e-4],[-0.0279,2.0e-4],[-0.0275,2.6e-4],[-0.0270,2.6e-4],[-0.0259,3.1e-4],[-0.0262,2.5e-4],[-0.0268,1.5e-4],[-0.0257,1.6e-4],[-0.0250,1.7e-4],[-0.0243,1.96e-4],[-0.0247,3.3e-4],[-0.0243,4.9e-4],[-0.0232,6.6e-4],[-0.0239,6.5e-4],[-0.0228,6.2e-4],[-0.0218,6.3e-4],[-0.0210,5.5e-4],[-0.0234,3.6e-4],[-0.0229,3.9e-4],[-0.0218,3.5e-4],[-0.0207,3.9e-4],[-0.0200,4.6e-4],[-0.0207,9.2e-4],[-0.0229,2.6e-4],[-0.0218,2.6e-4],[-0.0207,2.5e-4],[-0.0227,1.74e-4],[-0.0203,1.5e-4],[-0.0214,1.2e-4],[-0.0236,1.0e-4],[-0.0200,1.0e-4],[-0.0196,4.3e-4],[-0.0189,7.7e-4],[-0.0182,3.9e-4],[-0.0177,4.2e-4],[-0.0169,2.6e-4],[-0.0174,1.9e-4],[-0.0165,1.3e-4],[-0.0160,2.6e-4],[-0.0155,1.8e-4],[-0.0150,1.75e-4],[-0.0160,8.9e-4],[-0.0145,1.07e-3],[-0.0148,8.0e-4],[-0.0138,8.5e-4],[-0.0145,4.9e-4],[-0.0138,2.6e-4],[-0.0128,2.6e-4],[-0.0127,7.1e-4],[-0.0122,7.1e-4],[-0.0117,4.6e-4],[-0.0117,3.3e-4],[-0.0124,4.0e-4],[-0.0113,7.0e-4],[-0.0106,8.9e-4],[-0.0099,5.5e-4],[-0.0096,5.1e-4],[-0.0093,2.9e-4],[-0.0090,5.3e-4],[-0.0077,2.1e-4],[-0.0084,1.13e-3],[-0.0078,1.17e-3],[-0.0070,1.07e-3],[-0.0066,7.1e-4],[-0.0060,1.0e-3],[-0.0153,9.5e-4],[-0.0117,9.8e-4],[-0.0110,1.13e-3],[-0.0099,1.0e-3],[-0.0088,1.13e-3],[-0.0080,1.2e-3],[-0.0205,1.1e-4],
[0.0071,9.5e-4],[0.0081,9.0e-4],[0.0069,8.0e-4],[0.0081,8.0e-4],[0.0078,5.9e-4],[0.0087,5.6e-4],[0.0089,3.4e-4],[0.0082,2.2e-4],[0.0100,1.1e-3],[0.0104,9.5e-4],[0.0097,6.6e-4],[0.0112,7.8e-4],[0.0094,5.7e-4],[0.0122,1.1e-3],[0.0119,8.2e-4],[0.0112,2.1e-4],[0.0125,5.2e-4],[0.0127,4.6e-4],[0.0123,4.2e-4],[0.0130,3.7e-4],[0.0137,3.9e-4],[0.0128,2.5e-4],[0.0127,1.8e-4],[0.0125,1.3e-4],[0.0137,1.8e-4],[0.0134,1.1e-4],[0.0152,8.9e-4],[0.0148,7.4e-4],[0.0152,5.2e-4],[0.0163,6.3e-4],[0.0158,1.7e-4],[0.0163,1.4e-4],[0.0172,4.4e-4],[0.0177,4.1e-4],[0.0179,3.4e-4],[0.0190,2.8e-4],[0.0193,2.3e-4],[0.0190,1.5e-4],[0.0197,4.9e-4],[0.0201,1.2e-4],[0.0206,3.1e-4],[0.0199,1.05e-4],[0.0214,9.5e-4],[0.0220,5.5e-4],[0.0223,2.8e-4],[0.0223,1.0e-4],[0.0227,5.9e-4],[0.0225,7.1e-4],[0.0234,4.2e-4],[0.0237,3.6e-4],[0.0241,2.4e-4],[0.0252,1.9e-4],[0.0244,7.4e-4],[0.0252,5.4e-4],[0.0259,4.6e-4],[0.0266,3.9e-4],[0.0259,2.75e-4],[0.0270,5.9e-4],[0.0277,5.0e-4],[0.0273,3.4e-4],[0.0266,1.26e-4],[0.0273,1.45e-4],[0.0284,1.7e-4],[0.0291,1.5e-4],[0.0284,3.4e-4],[0.0291,5.5e-4],[0.0297,2.1e-4],[0.0297,4.2e-4],[0.0288,5.2e-4],
];

// ---------------- Axes ----------------
const aXTicks = [-2.5, -2, -1.5, -1, -0.5, 0, 0.5, 1];
const bXTicks = [-0.03, -0.02, -0.01, 0, 0.01, 0.02, 0.03];
const aYTicks = [1e-4, 1e-3, 1e-2, 1e-1, 1];
const bYTicks = [1e-4, 1e-3, 1e-2, 1e-1, 1];
const aXDomain = [-2.5, 1];
const bXDomain = [-0.03, 0.03];
const aYDomain = [4.93e-5, 1.99];
const bYDomain = [1e-4, 1.925];

function linMinor(lo: number, hi: number, step: number, every: number) {
  const out: number[] = [];
  const n = Math.round((hi - lo) / step);
  for (let i = 0; i <= n; i++) if (i % every !== 0) out.push(+(lo + i * step).toFixed(6));
  return out;
}
function logMinor(lo: number, hi: number) {
  const out: number[] = [];
  for (let k = -6; k <= 1; k++) for (let m = 2; m <= 9; m++) {
    const v = m * Math.pow(10, k);
    if (v > lo * 1.001 && v < hi * 0.999) out.push(v);
  }
  return out;
}

const toPts = (a: P[]) => a.map(([x, y]) => ({ x, y }));

const BLUE = '#0000CC';
const RED = '#FF0000';
const GRAY = '#9E9E9E';
const CYAN = '#00A9E3';
const MAGENTA = '#D652B6';

const dotShape = (c: string, r: number) => (p: any) => <circle cx={p.cx} cy={p.cy} r={r} fill={c} />;
const ringShape = (c: string, r: number, sw: number) => (p: any) => <circle cx={p.cx} cy={p.cy} r={r} fill="#fff" stroke={c} strokeWidth={sw} />;
const plusShape = (c: string, h: number, sw: number) => (p: any) => (
  <path d={`M${p.cx - h},${p.cy}H${p.cx + h}M${p.cx},${p.cy - h}V${p.cy + h}`} stroke={c} strokeWidth={sw} fill="none" />
);
const diamondShape = (fill: string, stroke: string, h: number, sw: number) => (p: any) => (
  <path d={`M${p.cx},${p.cy - h}L${p.cx + h},${p.cy}L${p.cx},${p.cy + h}L${p.cx - h},${p.cy}Z`} fill={fill} stroke={stroke} strokeWidth={sw} />
);
const noShape = () => <g />;
const noTick = () => <g />;

const axisLineStyle = { stroke: '#000', strokeWidth: 2 };
const tickLineStyle = { stroke: '#000', strokeWidth: 2 };
const minorLineStyle = { stroke: '#000', strokeWidth: 1.6 };

type PanelProps = {
  height: number; margin: any; yWidth: number; xHeight: number;
  xDomain: number[]; yDomain: number[]; xTicks: number[]; xMinor: number[];
  yTicks: number[]; yMinor: number[]; xLabelDy: number;
  children: React.ReactNode;
};

function Panel(props: PanelProps) {
  const { height, margin, yWidth, xHeight, xDomain, yDomain, xTicks, xMinor, yTicks, yMinor, xLabelDy } = props;
  const anchor = [{ x: (xDomain[0] + xDomain[1]) / 2, y: Math.sqrt(yDomain[0] * yDomain[1]) }];
  const xTick = (p: any) => (
    <text x={p.x} y={p.y + xLabelDy} textAnchor="middle" fontSize={31} fontFamily={FONT} fill="#000">{String(p.payload.value)}</text>
  );
  const yTick = (p: any) => {
    const e = Math.round(Math.log10(p.payload.value));
    return (
      <text x={p.x - 2} y={p.y + 6} textAnchor="end" fontSize={32} fontFamily={FONT} fill="#000">
        10<tspan dy={-12} fontSize={19}>{String(e)}</tspan>
      </text>
    );
  };
  return (
    <ScatterChart width={708} height={height} margin={margin}>
      <XAxis xAxisId="x" type="number" dataKey="x" domain={xDomain} ticks={xTicks} interval={0}
        height={xHeight} tickLine={false} tickSize={0} tickMargin={0} axisLine={axisLineStyle} tick={xTick} />
      <XAxis xAxisId="xb1" type="number" dataKey="x" domain={xDomain} ticks={xTicks} interval={0} allowDataOverflow
        mirror height={1} tick={noTick} tickSize={10} axisLine={false} tickLine={tickLineStyle} />
      <XAxis xAxisId="xb2" type="number" dataKey="x" domain={xDomain} ticks={xMinor} interval={0} allowDataOverflow
        mirror height={1} tick={noTick} tickSize={5} axisLine={false} tickLine={minorLineStyle} />
      <XAxis xAxisId="xt1" orientation="top" type="number" dataKey="x" domain={xDomain} ticks={xTicks} interval={0} allowDataOverflow
        mirror height={1} tick={noTick} tickSize={10} axisLine={axisLineStyle} tickLine={tickLineStyle} />
      <XAxis xAxisId="xt2" orientation="top" type="number" dataKey="x" domain={xDomain} ticks={xMinor} interval={0} allowDataOverflow
        mirror height={1} tick={noTick} tickSize={5} axisLine={false} tickLine={minorLineStyle} />
      <YAxis yAxisId="y" type="number" dataKey="y" scale="log" domain={yDomain} ticks={yTicks} interval={0}
        width={yWidth} tickLine={false} tickSize={0} tickMargin={0} axisLine={axisLineStyle} tick={yTick} />
      <YAxis yAxisId="yl1" type="number" dataKey="y" scale="log" domain={yDomain} ticks={yTicks} interval={0} allowDataOverflow
        mirror width={1} tick={noTick} tickSize={10} axisLine={false} tickLine={tickLineStyle} />
      <YAxis yAxisId="yl2" type="number" dataKey="y" scale="log" domain={yDomain} ticks={yMinor} interval={0} allowDataOverflow
        mirror width={1} tick={noTick} tickSize={6} axisLine={false} tickLine={minorLineStyle} />
      <YAxis yAxisId="yr1" orientation="right" type="number" dataKey="y" scale="log" domain={yDomain} ticks={yTicks} interval={0} allowDataOverflow
        mirror width={1} tick={noTick} tickSize={10} axisLine={axisLineStyle} tickLine={tickLineStyle} />
      <YAxis yAxisId="yr2" orientation="right" type="number" dataKey="y" scale="log" domain={yDomain} ticks={yMinor} interval={0} allowDataOverflow
        mirror width={1} tick={noTick} tickSize={6} axisLine={false} tickLine={minorLineStyle} />
      <Scatter xAxisId="xb1" yAxisId="yl1" data={anchor} isAnimationActive={false} shape={noShape} />
      <Scatter xAxisId="xb2" yAxisId="yl2" data={anchor} isAnimationActive={false} shape={noShape} />
      <Scatter xAxisId="xt1" yAxisId="yr1" data={anchor} isAnimationActive={false} shape={noShape} />
      <Scatter xAxisId="xt2" yAxisId="yr2" data={anchor} isAnimationActive={false} shape={noShape} />
      {props.children}
    </ScatterChart>
  );
}

const txt = { fontFamily: FONT };

function YTitle({ x, y }: { x: number; y: number }) {
  return (
    <text transform={`rotate(-90 ${x} ${y})`} x={x} y={y} textAnchor="middle" fontSize={30} fill="#000" style={txt}>
      S<tspan fontSize={21} dy={11}>exp</tspan><tspan dy={-11}>(Q,ω)/S</tspan><tspan fontSize={21} dy={11}>exp</tspan><tspan dy={-11}>(Q,ω=0)</tspan>
    </text>
  );
}

export default function App() {
  return (
    <div style={{ position: 'absolute', left: 0, top: 0, width: 708, height: 1314, background: '#fff', overflow: 'hidden' }}>
      <div style={{ position: 'absolute', left: 0, top: 0 }}>
        <Panel height={656} margin={{ top: 2, right: 28, bottom: 0, left: 0 }} yWidth={125} xHeight={100}
          xDomain={aXDomain} yDomain={aYDomain} xTicks={aXTicks} xMinor={linMinor(-2.5, 1, 0.1, 5)}
          yTicks={aYTicks} yMinor={logMinor(aYDomain[0], aYDomain[1])} xLabelDy={36}>
          <Scatter xAxisId="x" yAxisId="y" data={toPts(aHsbr)} isAnimationActive={false} shape={dotShape(BLUE, 6)} />
          <Scatter xAxisId="x" yAxisId="y" data={toPts(aHsbrDps)} isAnimationActive={false} shape={ringShape(RED, 3.8, 2.2)} />
          <Scatter xAxisId="x" yAxisId="y" data={toPts(aResolution)} isAnimationActive={false} shape={plusShape(GRAY, 6, 2)} />
        </Panel>
      </div>
      <div style={{ position: 'absolute', left: 0, top: 656 }}>
        <Panel height={658} margin={{ top: 4, right: 30, bottom: 0, left: 0 }} yWidth={124} xHeight={101}
          xDomain={bXDomain} yDomain={bYDomain} xTicks={bXTicks} xMinor={linMinor(-0.03, 0.03, 0.002, 5)}
          yTicks={bYTicks} yMinor={logMinor(bYDomain[0], bYDomain[1])} xLabelDy={44}>
          <Scatter xAxisId="x" yAxisId="y" data={toPts(bResolution)} isAnimationActive={false} shape={plusShape(GRAY, 6, 2)} />
          <Scatter xAxisId="x" yAxisId="y" data={toPts(bHsbr)} isAnimationActive={false} shape={diamondShape(CYAN, CYAN, 7, 0.5)} />
          <Scatter xAxisId="x" yAxisId="y" data={toPts(bHsbrDps)} isAnimationActive={false} shape={diamondShape('#fff', MAGENTA, 5.8, 2.2)} />
        </Panel>
      </div>
      <svg width={708} height={1314} style={{ position: 'absolute', left: 0, top: 0, pointerEvents: 'none' }}>
        <YTitle x={43} y={278} />
        <text x={182} y={53} fontSize={30} style={txt}>(a)</text>
        <text x={277} y={105} fontSize={28} fontWeight="bold" style={txt}>TOFTOF</text>
        <text x={277} y={153} fontSize={27} style={txt}>Q=0.6Å<tspan dy={-13} fontSize={17}>-1</tspan></text>
        <text x={277} y={182} fontSize={27} style={txt}>T=345K</text>
        <text x={393} y={301} fontSize={28} fill={BLUE} style={txt}>hSBR</text>
        <text x={185} y={487} fontSize={28} fill={RED} style={txt}>hSBR/dPS</text>
        <text x={365} y={455} fontSize={28} fill={GRAY} style={txt}>Resolution</text>
        <text x={403} y={636} fontSize={34} textAnchor="middle" style={txt}>E(meV)</text>

        <YTitle x={43} y={936} />
        <text x={180} y={713} fontSize={30} style={txt}>(b)</text>
        <text x={205} y={763} fontSize={27} fontWeight="bold" style={txt}>SPHERES</text>
        <text x={205} y={814} fontSize={27} style={txt}>Q=0.6Å<tspan dy={-13} fontSize={17}>-1</tspan></text>
        <text x={205} y={849} fontSize={27} style={txt}>T=345K</text>
        <text x={462} y={817} fontSize={28} fill={CYAN} style={txt}>hSBR</text>
        <text x={225} y={997} fontSize={30} fill={MAGENTA} style={txt}>hSBR/dPS</text>
        <text x={467} y={1067} fontSize={28} fill={GRAY} style={txt}>Resolution</text>
        <text x={401} y={1297} fontSize={34} textAnchor="middle" style={txt}>E(meV)</text>
      </svg>
    </div>
  );
}
